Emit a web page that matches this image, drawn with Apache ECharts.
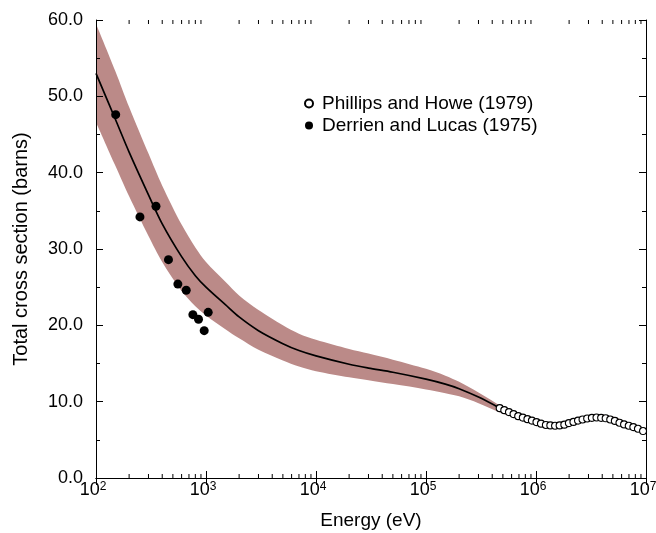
<!DOCTYPE html>
<html>
<head>
<meta charset="utf-8">
<script src="https://cdn.jsdelivr.net/npm/echarts@6/dist/echarts.min.js"></script>
<style>
html,body{margin:0;padding:0;background:#fff;}
#chart{width:656px;height:533px;}
</style>
</head>
<body>
<div id="chart"></div>
<script>
// Evaluated curve (black line)
const lineE   = [100, 150, 200, 300, 400, 600, 800, 1000, 1500, 2000, 3000, 5000, 7000, 1e4, 2e4, 3e4, 5e4, 1e5, 1.5e5, 2e5, 3e5, 4.7e5];
const lineVal = [53.0, 47.0, 42.7, 37.1, 33.3, 29.0, 26.5, 25.0, 22.7, 21.1, 19.3, 17.6, 16.7, 16.0, 14.9, 14.4, 13.85, 12.95, 12.3, 11.7, 10.6, 9.15];

// Uncertainty band
const bandE     = [100, 150, 200, 300, 400, 600, 800, 1000, 1500, 2000, 3000, 5000, 7000, 1e4, 2e4, 3e4, 5e4, 1e5, 1.5e5, 2e5, 3e5, 5e5, 7e5, 1e6, 1.5e6, 2e6, 3e6, 4e6, 5e6, 7e6, 1e7];
const bandUpper = [59.5, 53.3, 48.6, 42.5, 38.3, 33.2, 30.2, 28.3, 25.7, 23.9, 22.0, 20.0, 18.9, 18.1, 16.9, 16.3, 15.5, 14.3, 13.4, 12.6, 11.2, 9.3, 8.4, 7.7, 7.15, 7.5, 8.2, 8.25, 8.05, 7.2, 6.3];
const bandLower = [46.6, 40.9, 36.9, 31.7, 28.3, 24.5, 22.5, 21.3, 19.5, 18.3, 16.8, 15.4, 14.6, 14.0, 13.2, 12.8, 12.3, 11.6, 11.1, 10.7, 9.8, 8.45, 7.75, 7.05, 6.55, 6.9, 7.6, 7.6, 7.4, 6.55, 5.75];

// Derrien and Lucas (1975)
const derrienE   = [151, 251, 351, 456, 555, 661, 760, 855, 963, 1047];
const derrienVal = [47.6, 34.2, 35.6, 28.6, 25.4, 24.6, 21.4, 20.8, 19.3, 21.7];

// Phillips and Howe (1979)
const phillipsE   = [4.68e5, 5.15e5, 5.68e5, 6.25e5, 6.89e5, 7.59e5, 8.36e5, 9.18e5, 1.01e6, 1.11e6, 1.23e6, 1.35e6, 1.49e6, 1.64e6, 1.81e6, 1.99e6, 2.19e6, 2.41e6, 2.65e6, 2.92e6, 3.22e6, 3.55e6, 3.91e6, 4.30e6, 4.73e6, 5.21e6, 5.74e6, 6.32e6, 6.97e6, 7.67e6, 8.45e6, 9.4e6];
const phillipsVal = [9.15, 8.89, 8.63, 8.37, 8.10, 7.91, 7.71, 7.52, 7.32, 7.12, 6.95, 6.89, 6.84, 6.89, 6.99, 7.19, 7.35, 7.52, 7.67, 7.80, 7.88, 7.93, 7.88, 7.82, 7.66, 7.48, 7.24, 7.02, 6.84, 6.67, 6.45, 6.15];

// Minor tick positions on the log energy axis
const xMinorTicks = [];
[100, 1000, 1e4, 1e5, 1e6].forEach(function (d) { for (let m = 2; m <= 9; m++) xMinorTicks.push(m * d); });

const BAND = '#bb8a88';
const FONT = '"Liberation Sans", Arial, Helvetica, sans-serif';

const chart = echarts.init(document.getElementById('chart'), null, {renderer: 'canvas'});

const xBase = {
  type: 'log', logBase: 10, min: 100, max: 1e7, splitNumber: 5, z: 20,
  axisLine: {show: true, lineStyle: {color: '#000', width: 1}},
  axisTick: {show: true, inside: true, length: 7, lineStyle: {color: '#000'}},
  minorTick: {show: false},
  splitLine: {show: false}
};
const yBase = {
  type: 'value', min: 0, max: 60, interval: 10, z: 20,
  axisLine: {show: true, lineStyle: {color: '#000', width: 1}},
  axisTick: {show: true, inside: true, length: 7, lineStyle: {color: '#000'}},
  minorTick: {show: true, splitNumber: 2, length: 4, lineStyle: {color: '#000'}},
  splitLine: {show: false}
};

const option = {
  animation: false,
  backgroundColor: '#fff',
  textStyle: {fontFamily: FONT},
  grid: {left: 96, right: 10, top: 20, bottom: 55, containLabel: false, outerBoundsMode: 'none'},
  legend: {
    orient: 'vertical', left: 299, top: 89, itemWidth: 8, itemHeight: 8, itemGap: 3,
    data: ['Phillips and Howe (1979)', 'Derrien and Lucas (1975)'],
    textStyle: {fontSize: 19, color: '#000', fontFamily: FONT, padding: [0, 0, 0, 4]}
  },
  xAxis: [
    Object.assign({}, xBase, {
      position: 'bottom',
      name: 'Energy (eV)', nameLocation: 'middle', nameGap: 33,
      nameTextStyle: {fontSize: 19, color: '#000', fontFamily: FONT},
      axisLabel: {
        show: true, margin: 3, showMinLabel: true, showMaxLabel: true,
        formatter: function (v) { return '{b|10}{s|' + Math.round(Math.log10(v)) + '}'; },
        rich: {
          b: {fontSize: 18, lineHeight: 18, color: '#000', fontFamily: FONT},
          s: {fontSize: 12, lineHeight: 12, verticalAlign: 'top', color: '#000', fontFamily: FONT, padding: [0, 6, 0, 0]}
        }
      }
    }),
    Object.assign({}, xBase, {position: 'top', axisLabel: {show: false}})
  ],
  yAxis: [
    Object.assign({}, yBase, {
      position: 'left',
      name: 'Total cross section (barns)', nameLocation: 'middle', nameGap: 65,
      nameTextStyle: {fontSize: 20, color: '#000', fontFamily: FONT},
      axisLabel: {show: true, margin: 13, fontSize: 18, color: '#000', fontFamily: FONT,
        formatter: function (v) { return v.toFixed(1); }}
    }),
    Object.assign({}, yBase, {position: 'right', axisLabel: {show: false}})
  ],
  series: [
    {
      name: 'bandUpper', type: 'line', silent: true, symbol: 'none', smooth: 0.3, z: 1,
      lineStyle: {width: 0, opacity: 0},
      areaStyle: {color: BAND, opacity: 1, origin: 'start'},
      data: bandE.map(function (e, i) { return [e, bandUpper[i]]; })
    },
    {
      name: 'bandLower', type: 'line', silent: true, symbol: 'none', smooth: 0.3, z: 2,
      lineStyle: {width: 0, opacity: 0},
      areaStyle: {color: '#ffffff', opacity: 1, origin: 'start'},
      data: bandE.map(function (e, i) { return [e, bandLower[i]]; })
    },
    {
      name: 'curve', type: 'line', symbol: 'none', smooth: 0.3, z: 3,
      lineStyle: {color: '#000', width: 1.7},
      data: lineE.map(function (e, i) { return [e, lineVal[i]]; })
    },
    {
      name: 'Derrien and Lucas (1975)', type: 'scatter', symbol: 'circle', symbolSize: 9, z: 4,
      itemStyle: {color: '#000', opacity: 1},
      data: derrienE.map(function (e, i) { return [e, derrienVal[i]]; })
    },
    {
      name: 'Phillips and Howe (1979)', type: 'scatter', symbol: 'circle', symbolSize: 7, z: 5,
      itemStyle: {color: '#fff', borderColor: '#000', borderWidth: 1.1, opacity: 1},
      data: phillipsE.map(function (e, i) { return [e, phillipsVal[i]]; })
    },
    {
      name: 'xminor', type: 'custom', silent: true, clip: false, z: 10,
      encode: {x: 0, y: 1},
      data: xMinorTicks.map(function (v) { return [v, 0]; }),
      renderItem: function (params, api) {
        const v = api.value(0);
        const pb = api.coord([v, 0]);
        const pt = api.coord([v, 60]);
        return {
          type: 'group',
          children: [
            {type: 'line', shape: {x1: pb[0], y1: pb[1], x2: pb[0], y2: pb[1] - 4}, style: {stroke: '#000', lineWidth: 1}},
            {type: 'line', shape: {x1: pt[0], y1: pt[1], x2: pt[0], y2: pt[1] + 4}, style: {stroke: '#000', lineWidth: 1}}
          ]
        };
      }
    }
  ]
};
chart.setOption(option);
</script>
</body>
</html>
